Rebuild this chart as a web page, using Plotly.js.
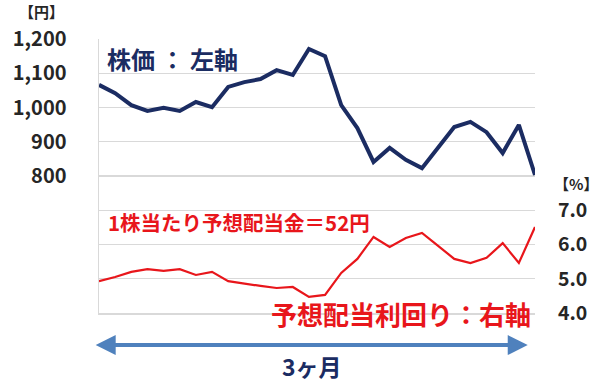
<!DOCTYPE html>
<html><head><meta charset="utf-8">
<script src="https://cdn.plot.ly/plotly-3.0.1.min.js"></script>
<style>html,body{margin:0;padding:0;background:#fff}#chart{width:600px;height:385px}</style>
</head><body><div id="chart"></div>
<script>
const points = Array.from({length: 28}, (_, i) => i);
const stockPrice = [1066,1042,1007,990,999,990,1016,1001,1060,1074,1083,1109,1095,1171,1150,1007,940,841,882,847,823,885,943,958,928,867,949,803];
const dividendYield = [4.93,5.05,5.20,5.28,5.23,5.28,5.11,5.20,4.93,4.85,4.79,4.73,4.76,4.47,4.53,5.17,5.58,6.22,5.93,6.19,6.34,5.96,5.58,5.46,5.61,6.04,5.46,6.51];
const leftTickVals = [400,500,600,700,800,900,1000,1100,1200];
const leftTickText = ['','','','','800','900','1,000','1,100','1,200'];
const rightTickVals = [4,5,6,7];
const rightTickText = ['4.0','5.0','6.0','7.0'];

const NAVY = '#1b2c62', RED = '#e8161b', FONT = '"Noto Sans CJK JP", "Noto Sans", sans-serif';

const data = [
  {x: points, y: stockPrice, type: 'scatter', mode: 'lines', yaxis: 'y',
   line: {color: NAVY, width: 4}, hoverinfo: 'skip'},
  {x: points, y: dividendYield, type: 'scatter', mode: 'lines', yaxis: 'y2',
   line: {color: RED, width: 2.2}, hoverinfo: 'skip'}
];

const layout = {
  width: 600, height: 385,
  margin: {l: 99, r: 65, t: 39, b: 72, pad: 0},
  paper_bgcolor: '#fff', plot_bgcolor: '#fff',
  showlegend: false,
  font: {family: FONT, color: '#262626'},
  xaxis: {range: [0, points.length - 1], showgrid: false, zeroline: false,
          showline: true, linecolor: '#d9d9d9', linewidth: 1.5,
          showticklabels: false, ticks: ''},
  yaxis: {range: [400, 1200], tickmode: 'array', tickvals: leftTickVals, ticktext: leftTickText,
          showgrid: true, gridcolor: '#d9d9d9', gridwidth: 1.2, zeroline: false,
          showline: true, linecolor: '#d9d9d9', linewidth: 1.5, ticks: '',
          ticklabelstandoff: 27,
          tickfont: {family: FONT, size: 20, color: '#262626', weight: 'bold'}},
  yaxis2: {range: [4, 12], overlaying: 'y', side: 'right', tickmode: 'array',
           tickvals: rightTickVals, ticktext: rightTickText, showgrid: false, zeroline: false,
           showline: false, ticks: '', ticklabelstandoff: 22,
           tickfont: {family: FONT, size: 19.5, color: '#262626', weight: 'bold'}},
  annotations: [
    {xref: 'paper', yref: 'paper', x: -0.133, y: 1.1, xanchor: 'center', yanchor: 'middle',
     text: '【円】', showarrow: false, font: {family: FONT, size: 15, color: '#262626', weight: 'bold'}},
    {xref: 'paper', yref: 'paper', x: 1.093, y: 0.474, xanchor: 'center', yanchor: 'middle',
     text: '【%】', showarrow: false, font: {family: FONT, size: 15, color: '#262626', weight: 'bold'}},
    {xref: 'paper', yref: 'paper', x: 0.014, y: 0.93, xanchor: 'left', yanchor: 'middle',
     text: '株価 ： 左軸', showarrow: false, font: {family: FONT, size: 24, color: NAVY, weight: 'bold'}},
    {xref: 'paper', yref: 'paper', x: 0.016, y: 0.333, xanchor: 'left', yanchor: 'middle',
     text: '1株当たり予想配当金＝52円', showarrow: false, font: {family: FONT, size: 20.5, color: RED, weight: 'bold'}},
    {xref: 'paper', yref: 'paper', x: 0.995, y: 0.0, xanchor: 'right', yanchor: 'middle',
     text: '予想配当利回り：右軸', showarrow: false, font: {family: FONT, size: 26, color: RED, weight: 'bold'}},
    {xref: 'x', yref: 'paper', x: 26.55, y: -0.117, axref: 'x', ayref: 'pixel', ax: -0.3, ay: 0,
     text: '', showarrow: true, arrowside: 'end+start', arrowhead: 2, arrowsize: 1,
     arrowwidth: 4, arrowcolor: '#4f81bd', standoff: 0, startstandoff: 0},
    {xref: 'paper', yref: 'paper', x: 0.489, y: -0.192, xanchor: 'center', yanchor: 'middle',
     text: '3ヶ月', showarrow: false, font: {family: FONT, size: 23, color: NAVY, weight: 'bold'}}
  ]
};

Plotly.newPlot('chart', data, layout, {staticPlot: true, displayModeBar: false});
</script></body></html>
